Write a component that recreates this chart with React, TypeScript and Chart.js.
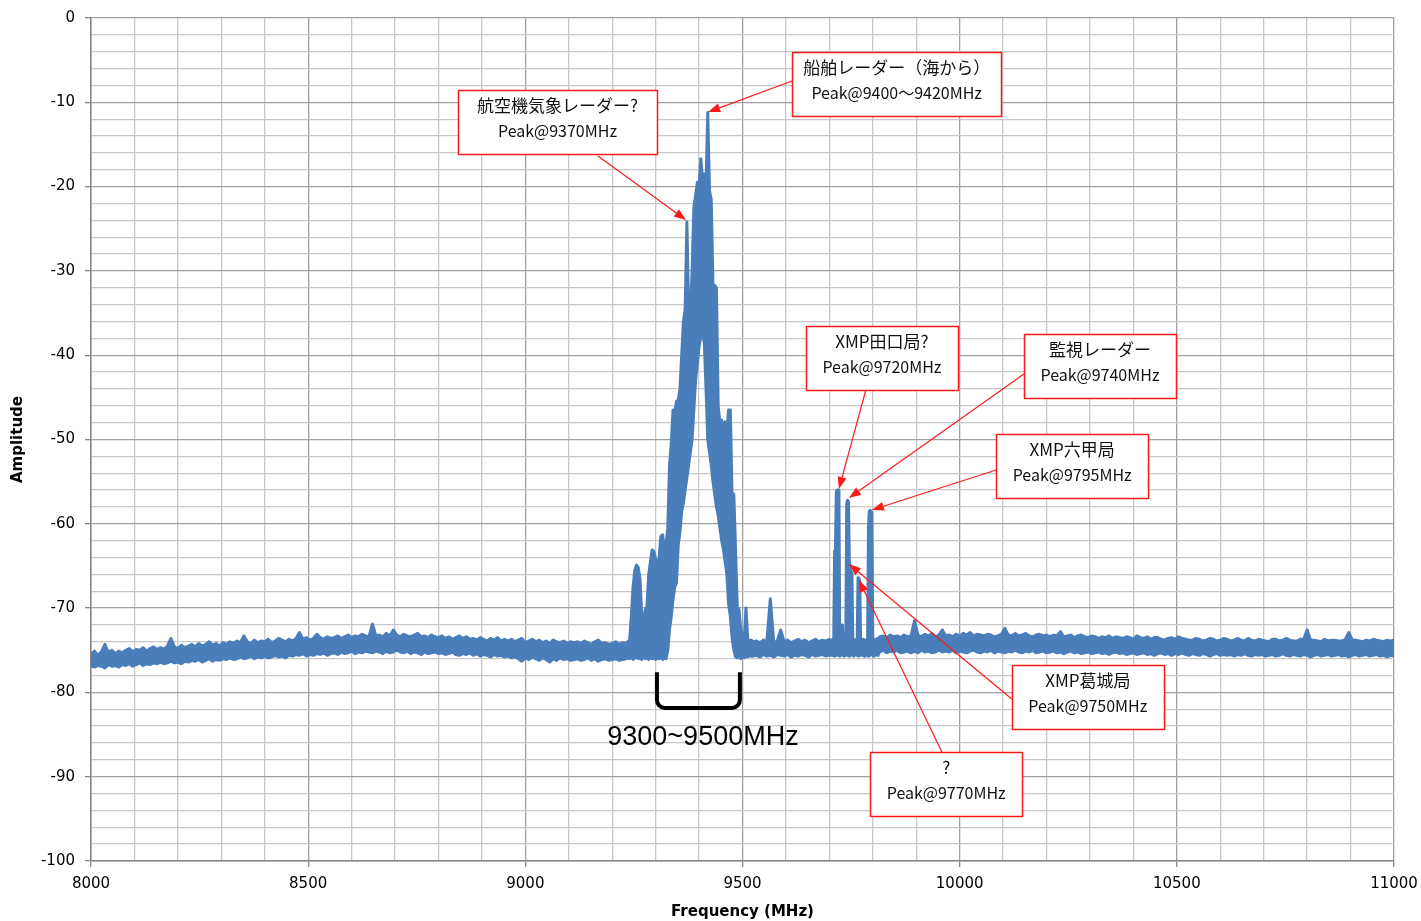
import React, { useEffect, useRef } from 'react';
import { Chart, registerables } from 'chart.js';

Chart.register(...registerables);

// ---------- data ----------
const X_TICK_LABELS = [8000, 8500, 9000, 9500, 10000, 10500, 11000];
const Y_TICK_LABELS = [0, -10, -20, -30, -40, -50, -60, -70, -80, -90, -100];

// Trace shown as its upper (max) and lower (min) envelope, per frequency segment.
// Segment 1: 8000..9232 MHz every 8 MHz
const LOW_START = 8000;
const LOW_STEP = 8;
const LOW_UPPER = [
  -75.5, -75.1, -75.6, -75.2, -74.3, -75.3, -75.0, -75.4, -75.1, -75.3,
  -75.0, -74.8, -75.2, -74.9, -75.0, -74.7, -75.1, -74.8, -74.6, -74.9,
  -74.7, -74.9, -74.5, -73.6, -74.6, -74.8, -74.4, -74.7, -74.5, -74.3,
  -74.6, -74.2, -74.5, -74.3, -74.0, -74.4, -74.2, -74.5, -74.1, -74.3,
  -74.0, -74.2, -73.9, -74.1, -73.3, -74.0, -74.2, -73.8, -74.1, -73.9,
  -74.0, -73.7, -74.1, -73.9, -73.6, -73.8, -74.0, -73.7, -73.9, -73.6,
  -72.9, -73.7, -73.5, -73.8, -73.6, -73.1, -73.5, -73.7, -73.4, -73.6,
  -73.5, -73.3, -73.6, -73.4, -73.2, -73.5, -73.3, -73.4, -73.1, -73.3,
  -73.4, -71.9, -73.3, -73.2, -73.4, -73.0, -73.3, -72.6, -73.2, -73.4,
  -73.1, -73.3, -73.4, -73.2, -73.0, -73.4, -73.3, -73.5, -73.2, -73.4,
  -73.5, -73.3, -73.6, -73.4, -73.7, -73.5, -73.3, -73.6, -73.4, -73.7,
  -73.6, -73.8, -73.5, -73.7, -73.9, -73.6, -73.8, -73.5, -73.9, -73.7,
  -73.9, -73.7, -74.0, -73.8, -73.6, -74.1, -73.9, -73.7, -74.0, -73.8,
  -74.1, -73.9, -74.2, -73.8, -74.0, -74.1, -73.9, -74.2, -74.0, -74.1,
  -74.0, -74.2, -73.9, -74.1, -74.3, -74.0, -73.8, -74.2, -74.1, -74.3,
  -74.2, -74.0, -74.3, -74.1, -74.2,
];
const LOW_LOWER = [
  -76.9, -77.0, -76.8, -76.9, -77.1, -76.7, -76.9, -76.8, -77.0, -76.7,
  -76.8, -76.6, -76.9, -76.7, -76.5, -76.8, -76.6, -76.7, -76.5, -76.6,
  -76.4, -76.6, -76.5, -76.3, -76.5, -76.4, -76.6, -76.3, -76.4, -76.2,
  -76.3, -76.1, -76.4, -76.2, -76.0, -76.3, -76.1, -76.2, -76.0, -76.1,
  -75.9, -76.1, -76.0, -75.8, -76.0, -75.9, -75.7, -76.0, -75.8, -75.9,
  -75.7, -75.9, -75.8, -75.6, -75.8, -75.7, -75.9, -75.6, -75.7, -75.5,
  -75.6, -75.4, -75.7, -75.5, -75.6, -75.4, -75.5, -75.3, -75.6, -75.4,
  -75.3, -75.5, -75.2, -75.4, -75.3, -75.1, -75.4, -75.2, -75.3, -75.1,
  -75.2, -75.3, -75.1, -75.2, -75.4, -75.1, -75.3, -75.2, -75.0, -75.2,
  -75.3, -75.1, -75.4, -75.2, -75.3, -75.5, -75.2, -75.4, -75.3, -75.2,
  -75.4, -75.3, -75.5, -75.4, -75.2, -75.5, -75.6, -75.4, -75.5, -75.3,
  -75.6, -75.4, -75.7, -75.5, -75.6, -75.8, -75.5, -75.7, -75.6, -75.8,
  -75.7, -75.9, -75.8, -76.0, -76.3, -75.9, -76.1, -75.8, -76.0, -76.2,
  -75.9, -76.1, -76.4, -76.0, -76.2, -75.9, -76.1, -76.0, -76.2, -76.1,
  -76.0, -76.2, -76.1, -75.9, -76.2, -76.0, -76.3, -76.1, -76.0, -76.2,
  -76.1, -76.0, -76.2, -76.1, -76.0,
];

// Segment 2: radar burst 9236..9520 MHz every 4 MHz
const BURST_START = 9236;
const BURST_STEP = 4;
const BURST_UPPER = [
  -74.0, -73.8, -71.0, -67.5, -65.5, -64.9, -65.2, -66.5, -70.8, -72.0,
  -70.2, -69.8, -66.0, -64.5, -63.1, -63.3, -64.2, -65.0, -64.0, -61.5,
  -61.3, -62.7, -62.5, -60.5, -53.0, -50.5, -46.5, -46.8, -45.5, -45.3,
  -44.0, -40.0, -36.0, -34.5, -24.2, -34.8, -35.0, -30.0, -22.5, -21.0,
  -19.5, -20.0, -16.7, -19.0, -18.5, -20.0, -11.2, -20.5, -21.5, -31.7,
  -31.7, -32.0, -46.0, -48.0, -47.7, -48.5, -47.9, -49.0, -46.5, -46.5,
  -56.8, -56.5, -63.0, -69.9, -70.2, -72.5, -73.5, -73.8, -70.0, -73.6,
  -74.0, -73.8,
];
const BURST_LOWER = [
  -75.9, -76.0, -75.8, -76.1, -75.9, -75.7, -76.0, -75.9, -76.1, -75.8,
  -76.0, -75.9, -76.1, -75.8, -76.0, -75.9, -76.1, -75.9, -76.0, -75.8,
  -76.1, -75.9, -76.0, -75.0, -72.5, -71.0, -69.0, -67.5, -67.0, -62.5,
  -61.0, -58.5, -57.5, -56.0, -54.5, -53.0, -51.5, -50.0, -46.5, -43.0,
  -41.0, -39.0, -37.8, -37.5, -38.5, -44.0, -50.0, -51.5, -53.0, -55.0,
  -56.5, -58.0, -59.0, -60.5, -62.0, -63.0, -64.5, -66.0, -69.5, -71.0,
  -73.5, -75.0, -75.8, -75.9, -75.7, -76.0, -75.8, -75.9, -75.7, -75.8,
  -75.6, -75.7,
];

// Segment 3: 9524..9700 MHz every 8 MHz
const MID_START = 9524;
const MID_STEP = 8;
const MID_UPPER = [
  -74.0, -73.9, -74.1, -73.8, -74.0, -68.9, -74.1, -73.9, -72.6, -74.0,
  -73.8, -74.1, -73.9, -73.7, -74.0, -73.8, -74.1, -73.9, -73.7, -74.0,
  -73.8, -73.9, -73.7,
];
const MID_LOWER = [
  -75.7, -75.6, -75.8, -75.5, -75.7, -75.6, -75.8, -75.5, -75.6, -75.7,
  -75.5, -75.8, -75.6, -75.7, -75.5, -75.6, -75.8, -75.5, -75.7, -75.6,
  -75.5, -75.7, -75.6,
];

// Segment 4: XMP / surveillance radar lines 9702..9812 MHz every 2 MHz
const XMP_START = 9702;
const XMP_STEP = 2;
const XMP_UPPER = [
  -73.8, -74.0, -73.9, -73.7, -74.0, -63.3, -63.0, -56.2, -56.0, -56.0,
  -56.3, -73.8, -73.9, -73.7, -72.0, -73.9, -74.0, -73.8, -72.5, -57.5,
  -57.2, -57.4, -64.5, -65.0, -65.8, -66.0, -73.9, -73.7, -74.0, -73.8,
  -73.9, -73.7, -66.4, -66.5, -66.8, -73.9, -73.8, -74.0, -73.7, -73.9,
  -73.8, -74.0, -73.7, -73.9, -60.4, -58.5, -58.4, -58.6, -59.5, -73.8,
  -73.9, -73.7, -74.0, -73.8, -73.6, -73.9,
];
const XMP_LOWER = [
  -75.5, -75.6, -75.4, -75.6, -75.5, -75.7, -75.5, -75.6, -75.4, -75.6,
  -75.5, -75.7, -75.6, -75.4, -75.5, -75.6, -75.7, -75.5, -75.4, -75.6,
  -75.5, -75.6, -75.7, -75.5, -75.6, -75.4, -75.5, -75.7, -75.6, -75.5,
  -75.4, -75.6, -75.5, -75.7, -75.6, -75.5, -75.4, -75.6, -75.5, -75.7,
  -75.6, -75.4, -75.5, -75.6, -75.7, -75.5, -75.6, -75.4, -75.5, -75.6,
  -75.7, -75.5, -75.6, -75.4, -75.5, -75.6,
];

// Segment 5: 9816..11000 MHz every 8 MHz
const HIGH_START = 9816;
const HIGH_STEP = 8;
const HIGH_UPPER = [
  -73.4, -73.3, -73.5, -73.2, -73.4, -73.3, -73.5, -73.2, -73.4, -73.3,
  -71.5, -73.2, -73.4, -73.1, -73.3, -73.0, -73.4, -73.2, -72.6, -73.3,
  -73.2, -73.4, -73.1, -73.3, -73.0, -73.2, -72.9, -73.3, -73.1, -73.2,
  -73.3, -73.1, -73.2, -73.4, -73.3, -73.1, -72.4, -73.2, -73.3, -73.0,
  -73.3, -73.2, -73.0, -73.3, -73.4, -73.2, -73.1, -73.3, -73.2, -73.4,
  -73.2, -73.3, -72.8, -73.4, -73.3, -73.2, -73.5, -73.3, -73.2, -73.4,
  -73.5, -73.3, -73.4, -73.6, -73.4, -73.5, -73.3, -73.6, -73.4, -73.5,
  -73.6, -73.4, -73.5, -73.7, -73.3, -73.5, -73.6, -73.4, -73.7, -73.5,
  -73.5, -73.7, -73.8, -73.6, -73.5, -73.7, -73.4, -73.6, -73.7, -73.8,
  -73.8, -73.6, -73.7, -73.9, -73.8, -73.6, -73.7, -73.9, -73.8, -73.6,
  -73.7, -73.9, -73.8, -73.6, -73.8, -73.9, -73.6, -73.8, -73.9, -73.7,
  -73.8, -73.9, -74.0, -73.7, -73.7, -73.9, -73.8, -73.6, -73.8, -73.9,
  -73.9, -73.7, -73.7, -72.6, -73.8, -73.8, -73.9, -74.0, -73.7, -73.9,
  -73.8, -73.8, -73.9, -73.9, -73.7, -72.9, -73.8, -73.8, -73.9, -74.0,
  -73.8, -73.9, -73.7, -73.8, -73.9, -74.0, -73.8, -73.9, -73.8,
];
const HIGH_LOWER = [
  -75.2, -75.0, -75.3, -75.1, -75.2, -75.0, -75.3, -75.2, -75.1, -75.3,
  -75.1, -75.3, -75.0, -75.2, -75.1, -75.3, -75.2, -75.0, -75.2, -75.1,
  -75.2, -75.0, -75.3, -75.1, -75.2, -75.3, -75.1, -75.0, -75.2, -75.3,
  -75.1, -75.2, -75.0, -75.3, -75.1, -75.2, -75.3, -75.1, -75.2, -75.0,
  -75.2, -75.3, -75.1, -75.2, -75.0, -75.3, -75.2, -75.1, -75.3, -75.2,
  -75.1, -75.3, -75.2, -75.4, -75.2, -75.1, -75.3, -75.2, -75.4, -75.3,
  -75.2, -75.4, -75.3, -75.2, -75.4, -75.3, -75.5, -75.3, -75.2, -75.4,
  -75.3, -75.5, -75.4, -75.3, -75.5, -75.4, -75.3, -75.5, -75.4, -75.6,
  -75.4, -75.3, -75.5, -75.4, -75.6, -75.4, -75.5, -75.3, -75.5, -75.6,
  -75.4, -75.5, -75.6, -75.4, -75.5, -75.7, -75.5, -75.4, -75.6, -75.5,
  -75.6, -75.5, -75.7, -75.5, -75.6, -75.4, -75.6, -75.7, -75.5, -75.6,
  -75.5, -75.7, -75.6, -75.5, -75.7, -75.6, -75.4, -75.6, -75.7, -75.5,
  -75.6, -75.7, -75.5, -75.6, -75.8, -75.6, -75.5, -75.7, -75.6, -75.5,
  -75.7, -75.6, -75.5, -75.7, -75.6, -75.8, -75.6, -75.5, -75.7, -75.6,
  -75.5, -75.7, -75.6, -75.5, -75.7, -75.6, -75.8, -75.6, -75.7,
];

// Callouts
const CALLOUT_TITLES = ['航空機気象レーダー?', '船舶レーダー（海から）', 'XMP田口局?', '監視レーダー', 'XMP六甲局', 'XMP葛城局', '?'];
const CALLOUT_SUBTITLES = ['Peak@9370MHz', 'Peak@9400〜9420MHz', 'Peak@9720MHz', 'Peak@9740MHz', 'Peak@9795MHz', 'Peak@9750MHz', 'Peak@9770MHz'];
const CALLOUT_TIP_FREQ = [9370, 9421, 9722, 9745, 9798, 9745, 9768];
const CALLOUT_TIP_AMP = [-23.96, -11.15, -55.87, -56.94, -58.36, -64.77, -66.67];

const BAND_LABEL = '9300~9500MHz';
const BAND_FROM = 9303;
const BAND_TO = 9494;

// ---------- layout of annotations (not data) ----------
const CALLOUT_LAYOUT = [
  { boxFreq: 9074, boxAmp: -12.34, w: 199, h: 64, fromFreq: 9167, fromAmp: -16.37 },
  { boxFreq: 9855, boxAmp: -7.83, w: 209, h: 64, fromFreq: 9614, fromAmp: -7.47 },
  { boxFreq: 9821, boxAmp: -40.33, w: 152, h: 64, fromFreq: 9784, fromAmp: -44.13 },
  { boxFreq: 10323, boxAmp: -41.28, w: 152, h: 64, fromFreq: 10148, fromAmp: -42.23 },
  { boxFreq: 10259, boxAmp: -53.14, w: 152, h: 64, fromFreq: 10084, fromAmp: -53.62 },
  { boxFreq: 10295, boxAmp: -80.55, w: 152, h: 64, fromFreq: 10120, fromAmp: -80.78 },
  { boxFreq: 9969, boxAmp: -90.87, w: 152, h: 64, fromFreq: 9959, fromAmp: -87.07 },
];
const BRACKET_LAYOUT = { topAmp: -77.6, bottomAmp: -81.85, labelAmp: -85.3, labelFreq: 9409 };

const TICK_FONT = { family: '"DejaVu Sans", Verdana, sans-serif', size: 15 };
const TITLE_FONT = { family: '"DejaVu Sans", Verdana, sans-serif', size: 15, weight: 'bold' as const };
const LINE_COLOR = '#4a7ebb';
const MAJOR_GRID = '#a0a0a0';
const MINOR_GRID = '#c8c8c8';
const AXIS_COLOR = '#868686';

function segment(start: number, step: number, amps: number[]) {
  return amps.map((a, i) => ({ x: start + i * step, y: a }));
}

function buildEnvelope(which: 'upper' | 'lower') {
  const up = which === 'upper';
  return [
    ...segment(LOW_START, LOW_STEP, up ? LOW_UPPER : LOW_LOWER),
    ...segment(BURST_START, BURST_STEP, up ? BURST_UPPER : BURST_LOWER),
    ...segment(MID_START, MID_STEP, up ? MID_UPPER : MID_LOWER),
    ...segment(XMP_START, XMP_STEP, up ? XMP_UPPER : XMP_LOWER),
    ...segment(HIGH_START, HIGH_STEP, up ? HIGH_UPPER : HIGH_LOWER),
  ];
}

const annotationPlugin = {
  id: 'spectrumAnnotations',
  afterDatasetsDraw(chart: any) {
    const { ctx } = chart;
    const xs = chart.scales.x;
    const ys = chart.scales.y;
    ctx.save();

    // bracket for the 9300~9500 MHz band
    const bx1 = xs.getPixelForValue(BAND_FROM);
    const bx2 = xs.getPixelForValue(BAND_TO);
    const by1 = ys.getPixelForValue(BRACKET_LAYOUT.topAmp);
    const by2 = ys.getPixelForValue(BRACKET_LAYOUT.bottomAmp);
    const r = 8;
    ctx.beginPath();
    ctx.moveTo(bx1, by1);
    ctx.lineTo(bx1, by2 - r);
    ctx.arcTo(bx1, by2, bx1 + r, by2, r);
    ctx.lineTo(bx2 - r, by2);
    ctx.arcTo(bx2, by2, bx2, by2 - r, r);
    ctx.lineTo(bx2, by1);
    ctx.strokeStyle = '#000';
    ctx.lineWidth = 4;
    ctx.lineJoin = 'round';
    ctx.stroke();
    ctx.fillStyle = '#000';
    ctx.font = '27px "Liberation Sans", Arial, sans-serif';
    ctx.textAlign = 'center';
    ctx.textBaseline = 'middle';
    ctx.fillText(
      BAND_LABEL,
      xs.getPixelForValue(BRACKET_LAYOUT.labelFreq),
      ys.getPixelForValue(BRACKET_LAYOUT.labelAmp)
    );

    // callouts
    for (let i = 0; i < CALLOUT_TITLES.length; i++) {
      const L = CALLOUT_LAYOUT[i];
      const sx = xs.getPixelForValue(L.fromFreq);
      const sy = ys.getPixelForValue(L.fromAmp);
      const tx = xs.getPixelForValue(CALLOUT_TIP_FREQ[i]);
      const ty = ys.getPixelForValue(CALLOUT_TIP_AMP[i]);
      const ang = Math.atan2(ty - sy, tx - sx);
      const headLen = 12;
      const headHalf = 4.5;
      const baseX = tx - headLen * Math.cos(ang);
      const baseY = ty - headLen * Math.sin(ang);
      ctx.beginPath();
      ctx.moveTo(sx, sy);
      ctx.lineTo(baseX, baseY);
      ctx.strokeStyle = '#ff1a1a';
      ctx.lineWidth = 1.2;
      ctx.stroke();
      ctx.beginPath();
      ctx.moveTo(tx, ty);
      ctx.lineTo(baseX + headHalf * Math.sin(ang), baseY - headHalf * Math.cos(ang));
      ctx.lineTo(baseX - headHalf * Math.sin(ang), baseY + headHalf * Math.cos(ang));
      ctx.closePath();
      ctx.fillStyle = '#ff1a1a';
      ctx.fill();

      const cx = xs.getPixelForValue(L.boxFreq);
      const cy = ys.getPixelForValue(L.boxAmp);
      const left = Math.round(cx - L.w / 2) + 0.5;
      const top = Math.round(cy - L.h / 2) + 0.5;
      ctx.fillStyle = '#ffffff';
      ctx.fillRect(left, top, L.w, L.h);
      ctx.strokeStyle = '#ff1a1a';
      ctx.lineWidth = 1.5;
      ctx.strokeRect(left, top, L.w, L.h);
      ctx.fillStyle = '#111';
      ctx.textAlign = 'center';
      ctx.textBaseline = 'middle';
      ctx.font = '17px "Noto Sans CJK JP", sans-serif';
      ctx.fillText(CALLOUT_TITLES[i], cx, top + 15);
      ctx.font = '16px "Noto Sans CJK JP", sans-serif';
      ctx.fillText(CALLOUT_SUBTITLES[i], cx, top + 40);
    }
    ctx.restore();
  },
};

export default function App() {
  const canvasRef = useRef<HTMLCanvasElement | null>(null);

  useEffect(() => {
    if (!canvasRef.current) return;
    const traceStyle = {
      borderColor: LINE_COLOR,
      backgroundColor: LINE_COLOR,
      borderWidth: 3,
      pointRadius: 0,
      tension: 0,
      borderJoinStyle: 'round' as const,
      borderCapStyle: 'round' as const,
    };
    const chart = new Chart(canvasRef.current, {
      type: 'line',
      data: {
        datasets: [
          { label: 'Amplitude (max)', data: buildEnvelope('upper'), fill: '+1', ...traceStyle },
          { label: 'Amplitude (min)', data: buildEnvelope('lower'), fill: false, ...traceStyle },
        ],
      },
      options: {
        responsive: false,
        animation: false,
        parsing: false,
        normalized: true,
        layout: { padding: { top: 18, right: 27, left: 0, bottom: 0 } },
        plugins: {
          legend: { display: false },
          tooltip: { enabled: false },
          title: { display: false },
        },
        scales: {
          x: {
            type: 'linear',
            min: 8000,
            max: 11000,
            afterFit: (s: any) => {
              s.height = 60;
              s.paddingLeft = 0;
              s.paddingRight = 0;
            },
            ticks: {
              stepSize: 100,
              autoSkip: false,
              maxRotation: 0,
              minRotation: 0,
              padding: 8,
              color: '#000',
              font: TICK_FONT,
              callback: (v: any) => (X_TICK_LABELS.includes(Number(v)) ? String(v) : ''),
            },
            grid: {
              color: (c: any) => (c.tick && X_TICK_LABELS.includes(c.tick.value) ? MAJOR_GRID : MINOR_GRID),
              lineWidth: 1.3,
              tickLength: 6,
              tickColor: (c: any) => (c.tick && X_TICK_LABELS.includes(c.tick.value) ? AXIS_COLOR : 'rgba(0,0,0,0)'),
            },
            border: { color: AXIS_COLOR, width: 1.5 },
            title: {
              display: true,
              text: 'Frequency (MHz)',
              color: '#000',
              font: TITLE_FONT,
              padding: { top: 0, bottom: 0 },
            },
          },
          y: {
            type: 'linear',
            min: -100,
            max: 0,
            afterFit: (s: any) => {
              s.width = 91;
              s.paddingTop = 0;
              s.paddingBottom = 0;
            },
            ticks: {
              stepSize: 2,
              autoSkip: false,
              padding: 10,
              color: '#000',
              font: TICK_FONT,
              callback: (v: any) => (Y_TICK_LABELS.includes(Number(v)) ? String(v) : ''),
            },
            grid: {
              color: (c: any) => (c.tick && Y_TICK_LABELS.includes(c.tick.value) ? MAJOR_GRID : MINOR_GRID),
              lineWidth: 1.3,
              tickLength: 6,
              tickColor: (c: any) => (c.tick && Y_TICK_LABELS.includes(c.tick.value) ? AXIS_COLOR : 'rgba(0,0,0,0)'),
            },
            border: { color: AXIS_COLOR, width: 1.5 },
            title: {
              display: true,
              text: 'Amplitude',
              color: '#000',
              font: TITLE_FONT,
              padding: { top: 9, bottom: 0 },
            },
          },
        },
      },
      plugins: [annotationPlugin],
    });
    return () => chart.destroy();
  }, []);

  return (
    <div style={{ position: 'absolute', left: 0, top: 0, width: 1421, height: 921, background: '#fff' }}>
      <canvas ref={canvasRef} width={1421} height={921} style={{ display: 'block' }} />
    </div>
  );
}
